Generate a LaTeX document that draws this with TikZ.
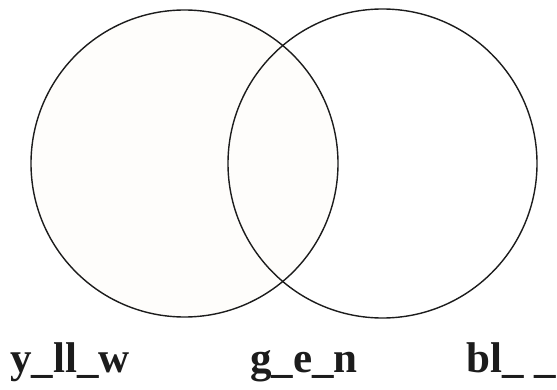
\documentclass[tikz,border=0pt]{standalone}
\usepackage{fontspec}
\setmainfont{Liberation Serif}
\usepackage{tikz}
\usetikzlibrary{positioning}
\definecolor{CreamFill}{HTML}{FEFDFB}
\definecolor{InkGray}{HTML}{1C1C1C}

\begin{document}
\begin{tikzpicture}[
  x=1pt, y=1pt,
  set/.style={draw=InkGray, line width=1.4pt, circle, inner sep=0pt, minimum size=#1},
  lbl/.style={anchor=base west, inner sep=0pt, text=InkGray, font=\fontsize{43}{43}\selectfont\bfseries}
]
\useasboundingbox (0,0) rectangle (557,389);
\node[set=307pt, fill=CreamFill] (yellow) at (184.5,225.5) {};
\node[set=309pt] (blue) at (382.5,225.5) {};
\node[lbl] (yellowlbl) at (10,17) {y\_ll\_w};
\node[lbl] (greenlbl) at (250,17) {g\_e\_n};
\node[lbl] (bluelbl) at (466,17) {bl\_ \_};
\end{tikzpicture}
\end{document}
